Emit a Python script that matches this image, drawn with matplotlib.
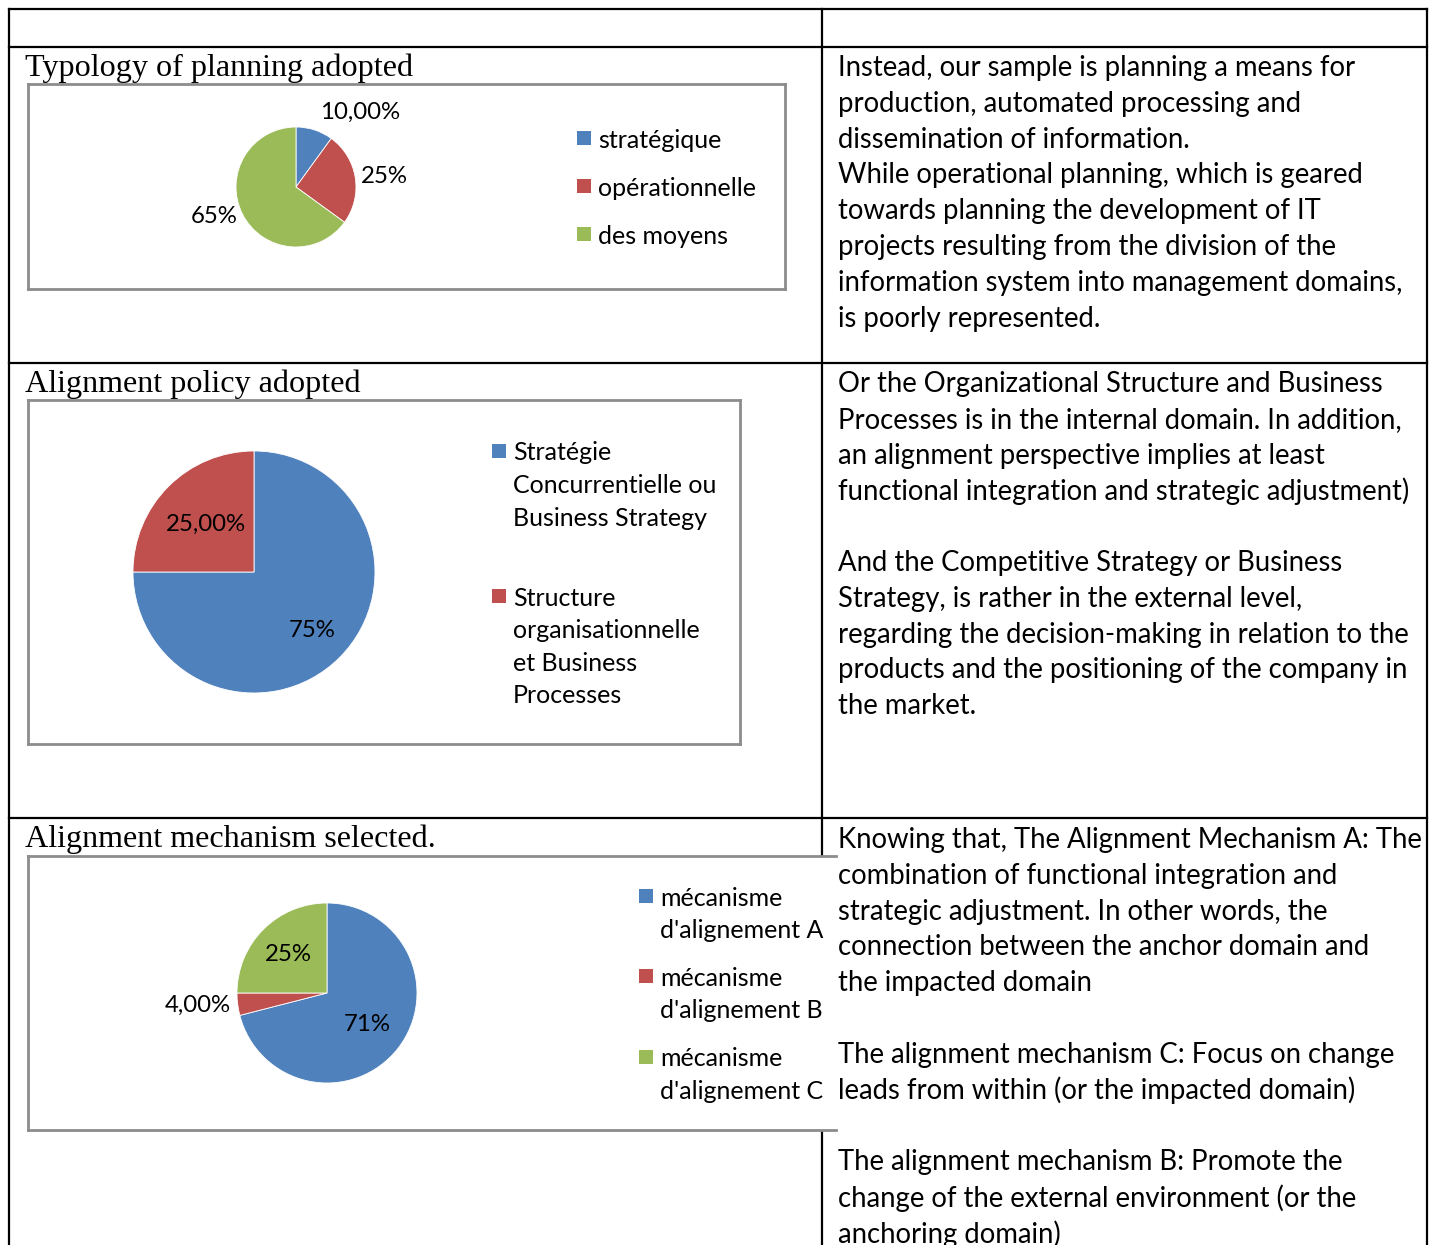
import matplotlib
matplotlib.use("Agg")
import numpy as np
import matplotlib.pyplot as plt
from matplotlib.lines import Line2D
from matplotlib.patches import Rectangle

W, H = 1430, 1245

# chart data
planning_labels = ["stratégique", "opérationnelle", "des moyens"]
planning_values = [10, 25, 65]
planning_texts = ["10,00%", "25%", "65%"]

policy_labels = ["Stratégie\nConcurrentielle ou\nBusiness Strategy",
                 "Structure\norganisationnelle\net Business\nProcesses"]
policy_values = [75, 25]
policy_texts = ["75%", "25,00%"]

mech_labels = ["mécanisme\nd'alignement A", "mécanisme\nd'alignement B",
               "mécanisme\nd'alignement C"]
mech_values = [71, 4, 25]
mech_texts = ["71%", "4,00%", "25%"]

titles = ["Typology of planning adopted", "Alignment policy adopted",
          "Alignment mechanism selected."]

text_row1 = ["Instead, our sample is planning a means for",
             "production, automated processing and",
             "dissemination of information.",
             "While operational planning, which is geared",
             "towards planning the development of IT",
             "projects resulting from the division of the",
             "information system into management domains,",
             "is poorly represented."]
text_row2 = ["Or the Organizational Structure and Business",
             "Processes is in the internal domain. In addition,",
             "an alignment perspective implies at least",
             "functional integration and strategic adjustment)",
             "",
             "And the Competitive Strategy or Business",
             "Strategy, is rather in the external level,",
             "regarding the decision-making in relation to the",
             "products and the positioning of the company in",
             "the market."]
text_row3 = ["Knowing that, The Alignment Mechanism A: The",
             "combination of functional integration and",
             "strategic adjustment. In other words, the",
             "connection between the anchor domain and",
             "the impacted domain",
             "",
             "The alignment mechanism C: Focus on change",
             "leads from within (or the impacted domain)",
             "",
             "The alignment mechanism B: Promote the",
             "change of the external environment (or the",
             "anchoring domain)"]

colors = ["#4F81BD", "#C0504D", "#9BBB59"]
SANS = "Lato"
SERIF = "Liberation Serif"


def fx(x):
    return x / W


def fy(y):
    return 1 - y / H


fig = plt.figure(figsize=(W / 100, H / 100), dpi=100)
fig.patch.set_facecolor("white")


def hline(x0, x1, y, color="black", lw=1.6, z=2):
    fig.add_artist(Line2D([fx(x0), fx(x1)], [fy(y), fy(y)], color=color, lw=lw, zorder=z))


def vline(x, y0, y1, color="black", lw=1.6, z=2):
    fig.add_artist(Line2D([fx(x), fx(x)], [fy(y0), fy(y1)], color=color, lw=lw, zorder=z))


# table grid
hline(9, 1427, 9)
hline(9, 1427, 47)
hline(9, 1427, 363)
hline(9, 1427, 818)
vline(9, 9, 1245)
vline(822, 9, 1245)
vline(1427, 9, 1245)


def chart_box(x0, y0, x1, y1, right=True):
    fig.add_artist(Rectangle((fx(x0), fy(y1)), fx(x1) - fx(x0), fy(y0) - fy(y1),
                             facecolor="white", edgecolor="none", zorder=3))
    g = "#8C8C8C"
    hline(x0, x1, y0, g, 2, 4)
    hline(x0, x1, y1, g, 2, 4)
    vline(x0, y0, y1, g, 2, 4)
    if right:
        vline(x1, y0, y1, g, 2, 4)


def pie(cx, cy, r, values, texts, dists, inside):
    ax = fig.add_axes([fx(cx - r), fy(cy + r), 2 * r / W, 2 * r / H], zorder=6)
    wedges, _ = ax.pie(values, colors=colors[:len(values)], startangle=90,
                       counterclock=False, radius=1,
                       wedgeprops=dict(edgecolor="white", linewidth=0.6))
    ax.set_xlim(-1, 1)
    ax.set_ylim(-1, 1)
    ax.axis("off")
    for w, t, d, inn in zip(wedges, texts, dists, inside):
        ang = np.deg2rad((w.theta1 + w.theta2) / 2)
        x, y = d * np.cos(ang), d * np.sin(ang)
        if inn:
            ha = "center"
        else:
            ha = "left" if x > 0 else "right"
        ax.text(x, y, t, ha=ha, va="center", fontsize=17.3, family=SANS,
                color="black", clip_on=False)


def legend(x, ys, labels, step=32.6):
    for y, lab, c in zip(ys, labels, colors):
        fig.add_artist(Rectangle((fx(x - 21), fy(y + 7)), 14 / W, 14 / H,
                                 facecolor=c, edgecolor="none", zorder=7))
        for i, line in enumerate(lab.split("\n")):
            fig.text(fx(x), fy(y + 2 + i * step), line, ha="left", va="center",
                     fontsize=18, family=SANS, zorder=7)


# titles
for t, y in zip(titles, [68, 384, 839]):
    fig.text(fx(25), fy(y), t, ha="left", va="center", fontsize=23.1,
             family=SERIF, zorder=8)

# row 1
chart_box(28, 84, 785, 289)
pie(296, 187, 60, planning_values, planning_texts, [1.3, 1.1, 1.1], [False] * 3)
legend(598, [138, 186, 234], planning_labels)

# row 2
chart_box(28, 400, 740, 744)
pie(254, 572, 121, policy_values, policy_texts, [0.68, 0.56], [True, True])
legend(513, [451, 596], policy_labels)

# row 3
chart_box(28, 856, 836, 1130, right=False)
pie(327, 993, 90, mech_values, mech_texts, [0.57, 1.08, 0.6], [True, False, True])
legend(660, [896, 976, 1057], mech_labels)

# right column text
for lines, y0 in zip([text_row1, text_row2, text_row3], [68, 384, 840]):
    for i, line in enumerate(lines):
        fig.text(fx(838), fy(y0 + i * 35.8), line, ha="left", va="center",
                 fontsize=19.8, family=SANS, zorder=8)

fig.savefig("out.png", dpi=100, facecolor="white")
